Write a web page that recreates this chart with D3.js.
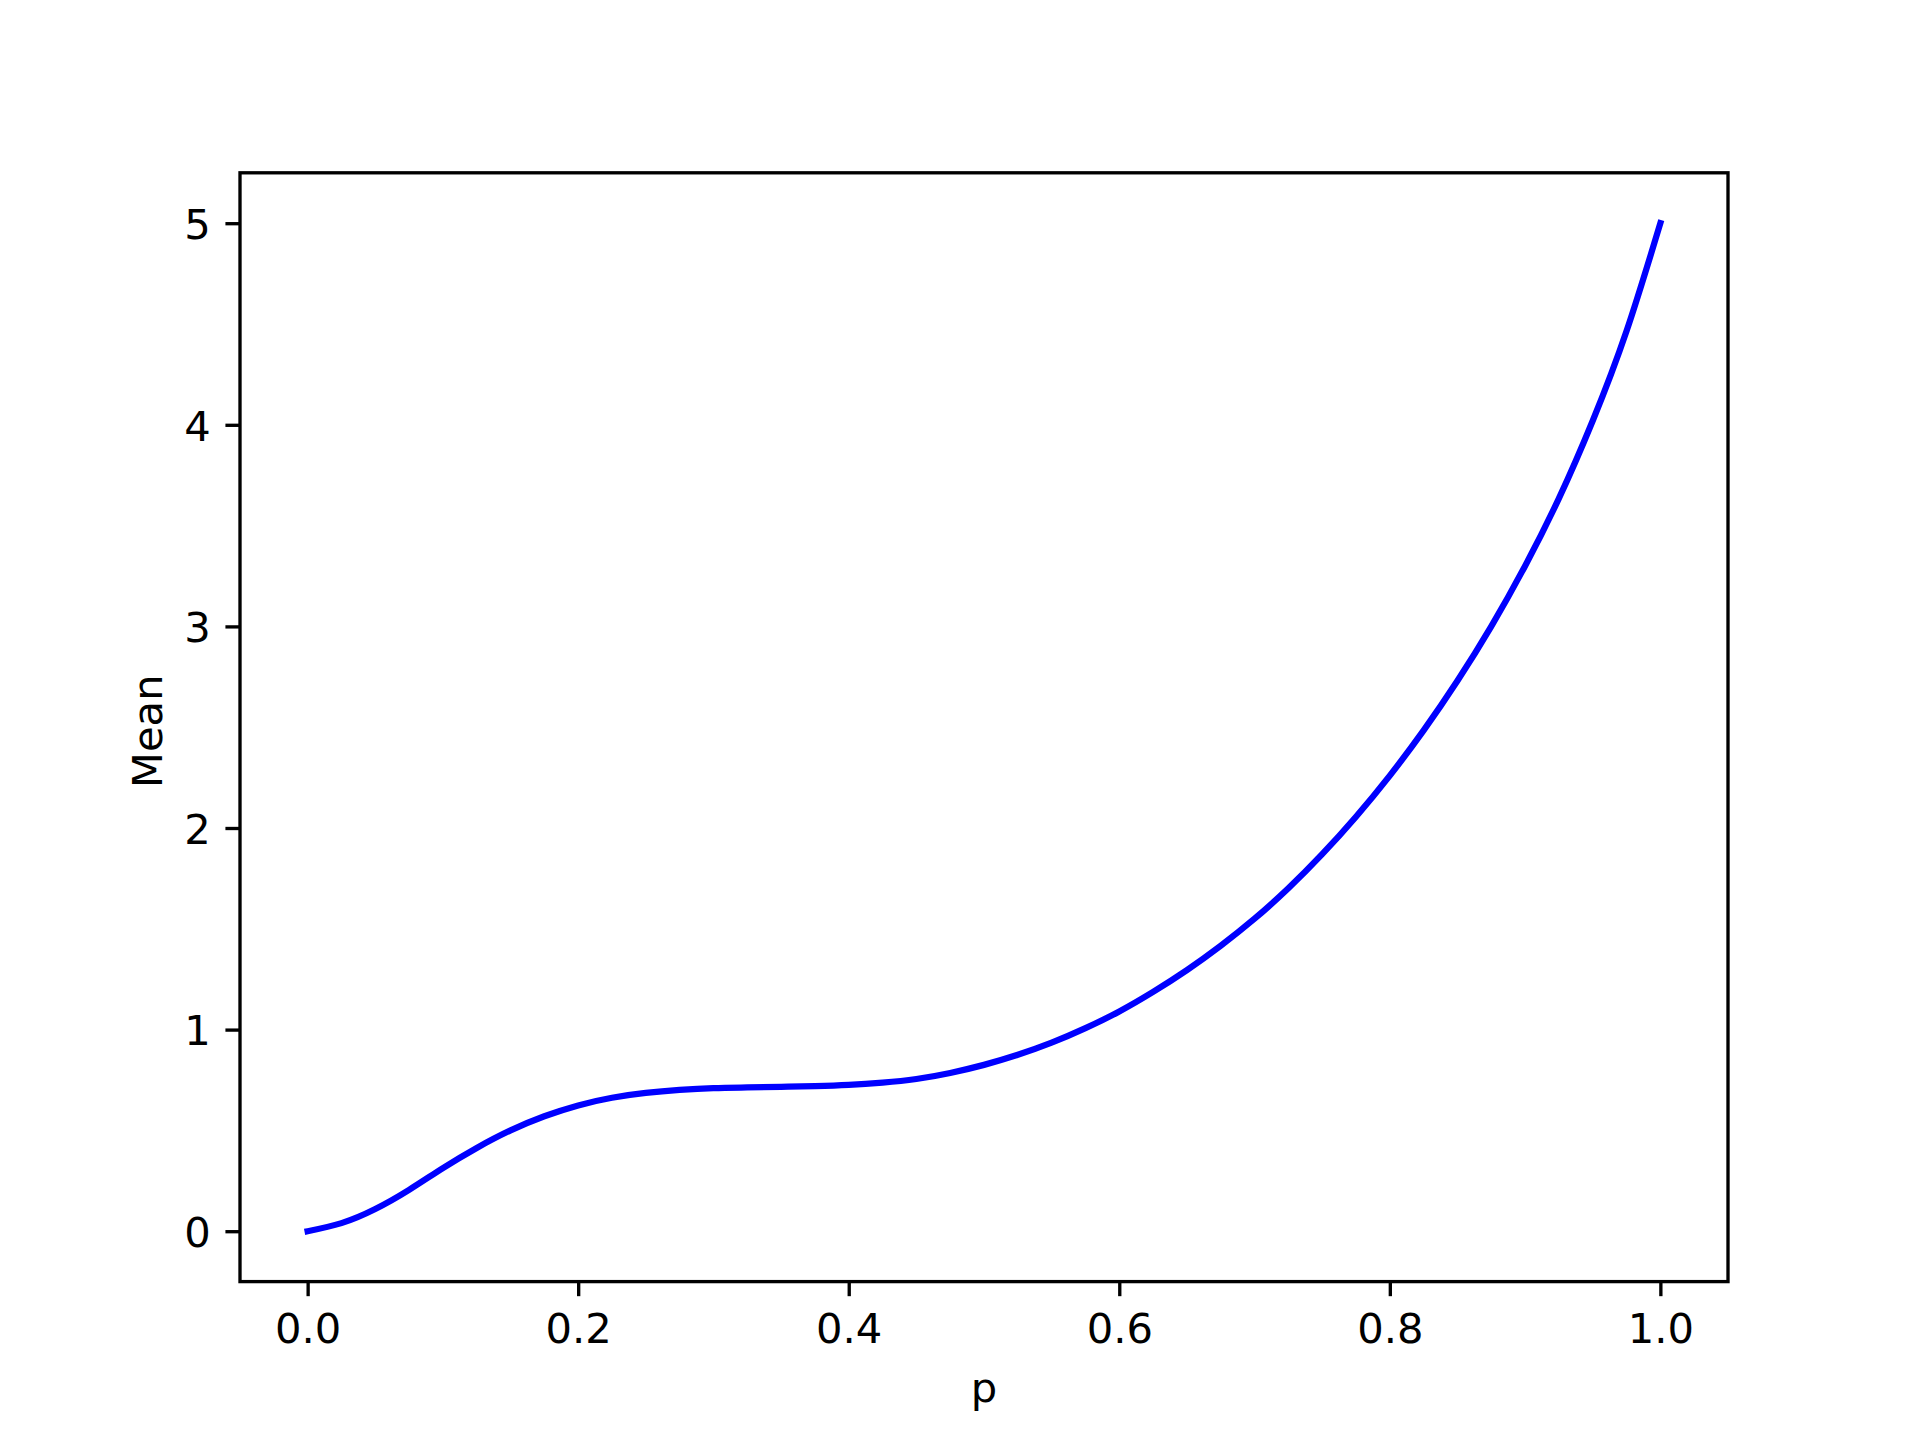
<!DOCTYPE html>
<html>
<head>
<meta charset="utf-8">
<script src="https://cdn.jsdelivr.net/npm/d3@7"></script>
<style>
  body { margin: 0; background: #fff; }
  text { font-family: "DejaVu Sans", sans-serif; fill: #000; }
</style>
</head>
<body>
<div id="chart"></div>
<script>

// values, every 0.025 in p
var pValues = [0, 0.025, 0.05, 0.075, 0.1, 0.125, 0.15, 0.175, 0.2, 0.225, 0.25, 0.275,
	0.3, 0.325, 0.35, 0.375, 0.4, 0.425, 0.45, 0.475, 0.5, 0.525, 0.55, 0.575,
	0.6, 0.625, 0.65, 0.675, 0.7, 0.725, 0.75, 0.775, 0.8, 0.825, 0.85, 0.875,
	0.9, 0.925, 0.95, 0.975, 1.0]
var meanValues = [0, 0.04, 0.11, 0.205, 0.313, 0.413, 0.50, 0.57, 0.624, 0.662, 0.686, 0.701,
	0.71, 0.713, 0.716, 0.72, 0.726, 0.737, 0.755, 0.785, 0.825, 0.875, 0.935, 1.007,
	1.09, 1.187, 1.295, 1.416, 1.55, 1.701, 1.87, 2.056, 2.26, 2.484, 2.73, 3.0,
	3.30, 3.635, 4.02, 4.465, 5.0]

var xTicks = [0, 0.2, 0.4, 0.6, 0.8, 1.0]
var xTickLabels = ["0.0", "0.2", "0.4", "0.6", "0.8", "1.0"]
var yTicks = [0, 1, 2, 3, 4, 5]
var yTickLabels = ["0", "1", "2", "3", "4", "5"]

var xLabel = "p"
var yLabel = "Mean"

var width = 1920
var height = 1440
var pt = 300 / 72

// axes box (matplotlib default subplot params)
var plotLeft = 240, plotRight = 1728, plotTop = 172.8, plotBottom = 1281.6

var data = pValues.map((p, i) => ({p: p, v: meanValues[i]}))

var xMin = d3.min(pValues), xMax = d3.max(pValues)
var yMin = d3.min(meanValues), yMax = d3.max(meanValues)
var xPad = (xMax - xMin) * 0.05
var yPad = (yMax - yMin) * 0.05

var x = d3.scaleLinear()
	.domain([xMin - xPad, xMax + xPad])
	.range([plotLeft, plotRight])

var y = d3.scaleLinear()
	.domain([yMin - yPad, yMax + yPad])
	.range([plotBottom, plotTop])

var svg = d3.select("#chart").append("svg")
	.attr("width", width)
	.attr("height", height)

svg.append("rect")
	.attr("width", width)
	.attr("height", height)
	.attr("fill", "#fff")

var line = d3.line()
	.x(d => x(d.p))
	.y(d => y(d.v))
	.curve(d3.curveNatural)

svg.append("path")
	.datum(data)
	.attr("fill", "none")
	.attr("stroke", "#0000ff")
	.attr("stroke-width", 1.5 * pt)
	.attr("stroke-linecap", "square")
	.attr("stroke-linejoin", "round")
	.attr("d", line)

// axes
var xAxis = d3.axisBottom(x)
	.tickValues(xTicks)
	.tickFormat((d, i) => xTickLabels[i])
	.tickSize(3.5 * pt)
	.tickSizeOuter(0)
	.tickPadding(17.7)

var yAxis = d3.axisLeft(y)
	.tickValues(yTicks)
	.tickFormat((d, i) => yTickLabels[i])
	.tickSize(3.5 * pt)
	.tickSizeOuter(0)
	.tickPadding(3.5 * pt)

var gx = svg.append("g")
	.attr("transform", `translate(0,${plotBottom})`)
	.call(xAxis)

var gy = svg.append("g")
	.attr("transform", `translate(${plotLeft},0)`)
	.call(yAxis)

svg.selectAll(".domain").remove()

svg.selectAll(".tick line")
	.attr("stroke", "#000")
	.attr("stroke-width", 0.8 * pt)

svg.selectAll(".tick text")
	.attr("font-family", "DejaVu Sans")
	.attr("font-size", 10 * pt)
	.attr("fill", "#000")

gy.selectAll(".tick text").attr("dy", "0.365em")

// frame
svg.append("rect")
	.attr("x", plotLeft)
	.attr("y", plotTop)
	.attr("width", plotRight - plotLeft)
	.attr("height", plotBottom - plotTop)
	.attr("fill", "none")
	.attr("stroke", "#000")
	.attr("stroke-width", 0.8 * pt)

// axis labels
svg.append("text")
	.attr("x", (plotLeft + plotRight) / 2)
	.attr("y", 1401.5)
	.attr("text-anchor", "middle")
	.attr("font-size", 10 * pt)
	.text(xLabel)

svg.append("text")
	.attr("transform", `translate(161.7,${(plotTop + plotBottom) / 2 + 4}) rotate(-90)`)
	.attr("text-anchor", "middle")
	.attr("font-size", 10 * pt)
	.text(yLabel)

</script>
</body>
</html>
